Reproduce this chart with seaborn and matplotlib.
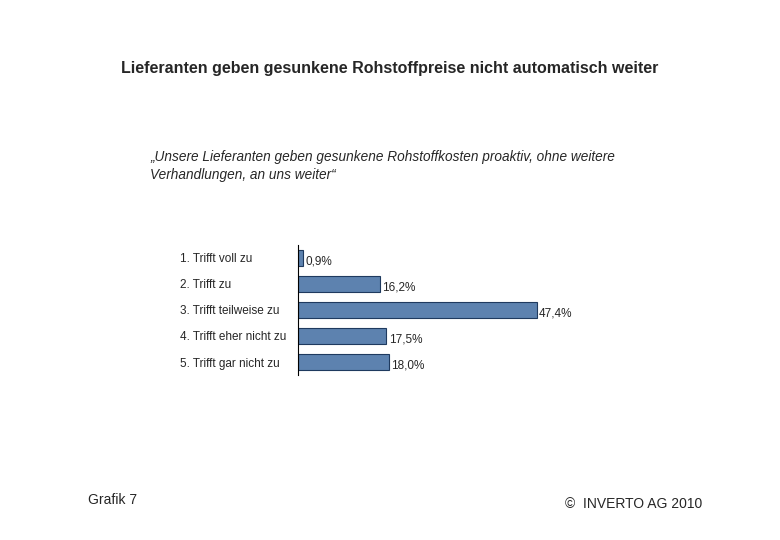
import pandas as pd
import seaborn as sns
import matplotlib.pyplot as plt

categories = ['1. Trifft voll zu', '2. Trifft zu', '3. Trifft teilweise zu',
              '4. Trifft eher nicht zu', '5. Trifft gar nicht zu']
values = [0.9, 16.2, 47.4, 17.5, 18.0]
value_labels = ['0,9%', '16,2%', '47,4%', '17,5%', '18,0%']

df = pd.DataFrame({'Antwort': categories, 'Anteil': values})

sns.set_style('white')
plt.rcParams['font.family'] = ['Arial', 'Liberation Sans', 'DejaVu Sans']

fig = plt.figure(figsize=(7.8, 5.4), dpi=100)
ax = fig.add_axes([298 / 780, 1 - 375 / 540, 302 / 780, 130 / 540])

sns.barplot(data=df, x='Anteil', y='Antwort', color='#4f81bd', width=0.58,
            edgecolor='#1f3a5f', linewidth=0.8, ax=ax)

ax.set_xlim(0, 60)
ax.set_xlabel('')
ax.set_ylabel('')
ax.set_xticks([])
for s in ['top', 'right', 'bottom']:
    ax.spines[s].set_visible(False)
ax.spines['left'].set_color('black')
ax.spines['left'].set_linewidth(0.8)
ax.tick_params(axis='y', length=0, pad=85, labelsize=8.5)
for t in ax.get_yticklabels():
    t.set_ha('left')

for i, (v, lab) in enumerate(zip(values, value_labels)):
    ax.text(v + 0.5, i + 0.12, lab, va='center', ha='left', fontsize=8.5)

fig.text(0.5, 1 - 69 / 540, 'Lieferanten geben gesunkene Rohstoffpreise nicht automatisch weiter',
         ha='center', va='center', fontsize=11.5, fontweight='bold')
fig.text(150 / 780, 1 - 166 / 540,
         '\u201eUnsere Lieferanten geben gesunkene Rohstoffkosten proaktiv, ohne weitere\nVerhandlungen, an uns weiter\u201c',
         ha='left', va='center', fontsize=9.8, style='italic', linespacing=1.3)
fig.text(88 / 780, 1 - 500 / 540, 'Grafik 7', ha='left', va='center', fontsize=10)
fig.text(565 / 780, 1 - 504 / 540, '\u00a9  INVERTO AG 2010', ha='left', va='center', fontsize=10)

fig.savefig('out.png', dpi=100, facecolor='white')
